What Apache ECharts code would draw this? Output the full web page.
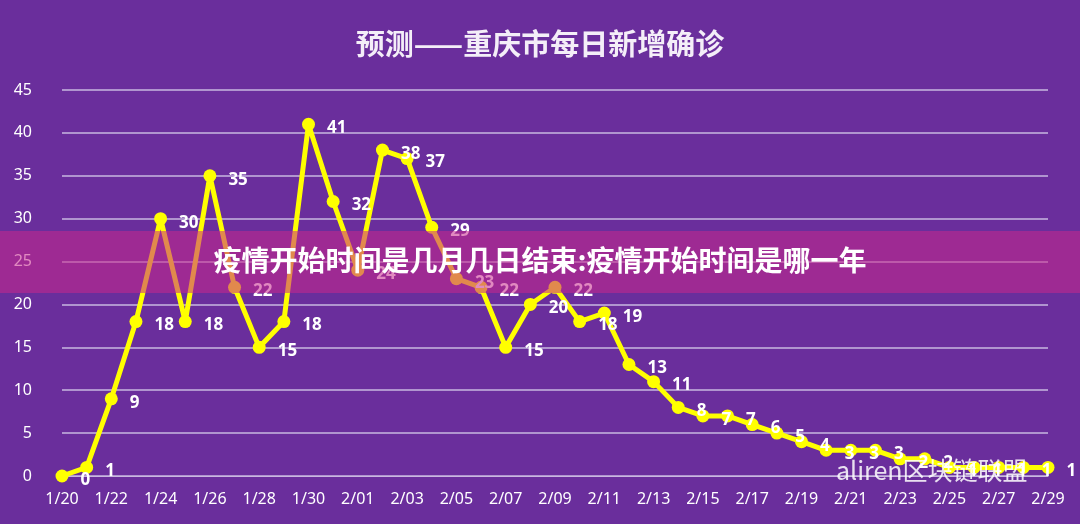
<!DOCTYPE html>
<html><head><meta charset="utf-8">
<script src="https://cdn.jsdelivr.net/npm/echarts@6/dist/echarts.min.js"></script>
<style>html,body{margin:0;padding:0;background:#6a2e9c}#c{width:1080px;height:524px}</style>
</head><body><div id="c"></div>
<script>
const dates = ['1/20','1/21','1/22','1/23','1/24','1/25','1/26','1/27','1/28','1/29','1/30','1/31','2/01','2/02','2/03','2/04','2/05','2/06','2/07','2/08','2/09','2/10','2/11','2/12','2/13','2/14','2/15','2/16','2/17','2/18','2/19','2/20','2/21','2/22','2/23','2/24','2/25','2/26','2/27','2/28','2/29'];
const cases = [0,1,9,18,30,18,35,22,15,18,41,32,24,38,37,29,23,22,15,20,22,18,19,13,11,8,7,7,6,5,4,3,3,3,2,2,1,1,1,1,1];
const title = '预测——重庆市每日新增确诊';
const chart = echarts.init(document.getElementById('c'));
chart.setOption({
  backgroundColor:'#6a2e9c',
  title:{text:title,left:'center',top:24,textStyle:{color:'#f4eef8',fontSize:29,fontWeight:'bold',fontFamily:'Noto Sans CJK SC'}},
  grid:{left:62,right:32,top:90,bottom:48},
  xAxis:{type:'category',data:dates,boundaryGap:false,
    axisLine:{lineStyle:{color:'#c9b8e0'}},axisTick:{show:false},
    axisLabel:{color:'#ffffff',fontSize:16,interval:1,margin:15,fontFamily:'Noto Sans'}},
  yAxis:{type:'value',min:0,max:45,interval:5,
    axisLine:{show:false},axisTick:{show:false},
    axisLabel:{color:'#ffffff',fontSize:16,margin:30,fontFamily:'Noto Sans'},
    splitLine:{lineStyle:{color:'#c9b8e0',width:1.5}}},
  series:[{type:'line',data:cases,symbol:'circle',symbolSize:13,
    lineStyle:{color:'#ffff00',width:5},itemStyle:{color:'#ffff00'},
    label:{show:true,position:'right',distance:12,color:'#ffffff',fontSize:17,fontWeight:'bold',fontFamily:'Noto Sans',offset:[0,4]}}],
  graphic:[
    {type:'rect',shape:{x:0,y:231,width:1080,height:62},style:{fill:'rgba(200,40,140,0.55)'},z:100},
    {type:'text',left:'center',top:246,style:{text:'疫情开始时间是几月几日结束:疫情开始时间是哪一年',fill:'#ffffff',fontSize:28,fontWeight:'bold',fontFamily:'Noto Sans CJK SC'},z:101},
    {type:'text',left:836,top:458,style:{text:'aliren区块链联盟',fill:'rgba(255,255,255,0.85)',fontSize:25,fontFamily:'Noto Sans CJK SC'},z:101}
  ]
});
</script></body></html>
